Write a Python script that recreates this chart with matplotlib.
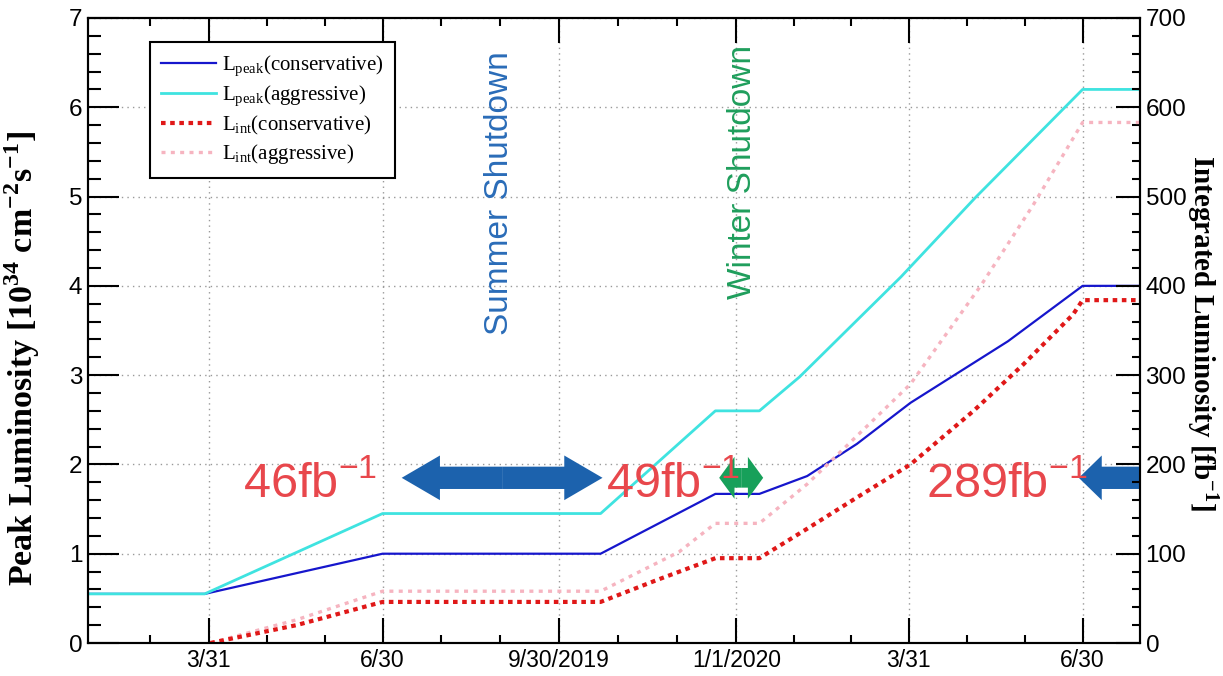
import numpy as np
import matplotlib.pyplot as plt
from matplotlib.patches import FancyArrow
from matplotlib.ticker import MultipleLocator, FixedLocator

plt.rcParams['font.family'] = ['Liberation Sans', 'DejaVu Sans']

# peak luminosity [10^34 cm^-2 s^-1]
cons_dates = ['2019-01-27', '2019-03-29', '2019-06-30', '2019-10-22', '2019-12-21', '2020-01-13',
              '2020-02-07', '2020-03-04', '2020-04-01', '2020-05-22', '2020-06-30', '2020-07-30']
peak_cons = [0.55, 0.55, 1.0, 1.0, 1.67, 1.67, 1.87, 2.23, 2.69, 3.38, 4.0, 4.0]
aggr_dates = ['2019-01-27', '2019-03-29', '2019-06-30', '2019-10-22', '2019-12-21', '2020-01-13',
              '2020-02-03', '2020-03-27', '2020-05-05', '2020-06-30', '2020-07-30']
peak_aggr = [0.55, 0.55, 1.45, 1.45, 2.6, 2.6, 2.98, 4.10, 4.99, 6.2, 6.2]

# integrated luminosity [fb^-1]
icons_dates = ['2019-04-01', '2019-05-16', '2019-06-30', '2019-10-22', '2019-11-21', '2019-12-21',
               '2020-01-13', '2020-02-07', '2020-03-04', '2020-04-01', '2020-05-04', '2020-05-30',
               '2020-06-25', '2020-06-30', '2020-07-30']
int_cons = [0, 20, 46, 46, 71, 95, 95, 128, 163, 200, 260, 312, 368, 384, 384]
iaggr_dates = ['2019-04-01', '2019-05-16', '2019-06-30', '2019-10-22', '2019-12-02', '2019-12-21',
               '2020-01-13', '2020-02-07', '2020-04-01', '2020-05-08', '2020-06-04', '2020-06-30',
               '2020-07-30']
int_aggr = [0, 26, 58, 58, 102, 134, 134, 178, 290, 401, 490, 583, 583]

tick_dates = ['2019-03-31', '2019-06-30', '2019-09-30', '2020-01-01', '2020-03-31', '2020-06-30']
tick_labels = ['3/31', '6/30', '9/30/2019', '1/1/2020', '3/31', '6/30']

t0 = np.datetime64('2019-01-01')
def day(d):
    return (np.array(d, dtype='datetime64[D]') - t0).astype(float)

fig = plt.figure(figsize=(12.23, 6.76), dpi=100)
ax = fig.add_axes([88/1223, 33/676, 1052/1223, 625/676])
ax2 = ax.twinx()

l1, = ax.plot(day(cons_dates), peak_cons, color='#1616cc', lw=1.6)
l2, = ax.plot(day(aggr_dates), peak_aggr, color='#3fe3e0', lw=2)
l4, = ax2.plot(day(iaggr_dates), int_aggr, color='#f6b4c0', lw=2.4, ls=(0, (1.2, 1.6)))
l3, = ax2.plot(day(icons_dates), int_cons, color='#e01818', lw=3, ls=(0, (1.1, 1.1)))

ax.set_xlim(day('2019-01-27'), day('2020-07-30'))
ax.set_ylim(0, 7)
ax2.set_ylim(0, 700)

mj = day(tick_dates)
mn = [mj[0] - (mj[1] - mj[0]) / 3]
for a, b in zip(mj[:-1], mj[1:]):
    mn += [a + (b - a) / 3, a + 2 * (b - a) / 3]
ax.set_xticks(mj)
ax.set_xticklabels(tick_labels)
ax.xaxis.set_minor_locator(FixedLocator(mn))
ax.yaxis.set_major_locator(MultipleLocator(1))
ax.yaxis.set_minor_locator(MultipleLocator(0.2))
ax2.yaxis.set_major_locator(MultipleLocator(100))
ax2.yaxis.set_minor_locator(MultipleLocator(20))

ax.tick_params(which='both', direction='in', top=True, width=1.5, pad=4)
ax.tick_params(axis='y', which='major', length=22, labelsize=17.5)
ax.tick_params(axis='y', which='minor', length=9)
ax.tick_params(axis='x', which='major', length=18, labelsize=16.5)
ax.tick_params(axis='x', which='minor', length=6)
ax2.tick_params(which='both', direction='in', width=1.5, labelsize=17.5, pad=4)
ax2.tick_params(which='major', length=17)
ax2.tick_params(which='minor', length=6)
for a in (ax, ax2):
    for s in a.spines.values():
        s.set_linewidth(1.5)

ax.grid(True, which='major', ls=(0, (1, 3)), color='#999999', lw=1)

ax.set_ylabel(r'Peak Luminosity [10$^{\mathregular{34}}$ cm$^{\mathregular{-2}}$s$^{\mathregular{-1}}$]',
              family='Liberation Serif', fontweight='bold', fontsize=24.5)
ax.yaxis.set_label_coords(-0.044, 0.455)
ax2.set_ylabel(r'Integrated Luminosity [fb$^{\mathregular{-1}}$]', family='Liberation Serif',
               fontweight='bold', fontsize=21, rotation=270, va='center')
ax2.yaxis.set_label_coords(1.060, 0.496)

# shutdown arrows
blue = '#1c62ad'
green = '#17a05a'
yc = 1.85
mid = (day('2019-07-10') + day('2019-10-23')) / 2
ax2.add_patch(FancyArrow(mid, yc, day('2019-10-23') - mid, 0, width=0.25, head_width=0.5, head_length=20,
                         length_includes_head=True, color=blue, lw=0, transform=ax.transData))
ax2.add_patch(FancyArrow(mid, yc, day('2019-07-10') - mid, 0, width=0.25, head_width=0.5, head_length=20,
                         length_includes_head=True, color=blue, lw=0, transform=ax.transData))
gmid = (day('2019-12-23') + day('2020-01-15')) / 2
ax2.add_patch(FancyArrow(gmid, yc, day('2020-01-15') - gmid, 0, width=0.22, head_width=0.47, head_length=8,
                         length_includes_head=True, color=green, lw=0, transform=ax.transData))
ax2.add_patch(FancyArrow(gmid, yc, day('2019-12-23') - gmid, 0, width=0.22, head_width=0.47, head_length=8,
                         length_includes_head=True, color=green, lw=0, transform=ax.transData))
ax2.add_patch(FancyArrow(day('2020-08-10'), yc, day('2020-06-28') - day('2020-08-10'), 0, width=0.25,
                         head_width=0.5, head_length=12, length_includes_head=True, color=blue, lw=0,
                         transform=ax.transData, clip_on=True))

ax2.text(day('2019-08-30'), 3.45, 'Summer Shutdown', rotation=90, ha='center', va='bottom',
         color='#2a6cb8', fontsize=24, transform=ax.transData)
ax2.text(day('2020-01-04'), 3.85, 'Winter Shutdown', rotation=90, ha='center', va='bottom',
         color='#1f9e5c', fontsize=24, transform=ax.transData)

red = '#e8474c'
for d, s in [('2019-04-18', '46'), ('2019-10-25', '49'), ('2020-04-09', '289')]:
    ax2.text(day(d), 1.63, s + r'fb$^{\mathregular{-1}}$', color=red, fontsize=35, ha='left',
             va='baseline', transform=ax.transData)

leg = ax2.legend([l1, l2, l3, l4],
                 [r'L$_{\mathregular{peak}}$(conservative)', r'L$_{\mathregular{peak}}$(aggressive)',
                  r'L$_{\mathregular{int}}$(conservative)', r'L$_{\mathregular{int}}$(aggressive)'],
                 loc='upper left', bbox_to_anchor=(150/1223, 1 - 42/676), bbox_transform=fig.transFigure,
                 prop={'family': 'Liberation Serif', 'size': 15}, fancybox=False, framealpha=1,
                 edgecolor='black', borderaxespad=0, handlelength=2.6, handletextpad=0.3,
                 labelspacing=0.25, borderpad=0.55)
leg.get_frame().set_linewidth(1.5)

fig.savefig('out.png', dpi=100)
